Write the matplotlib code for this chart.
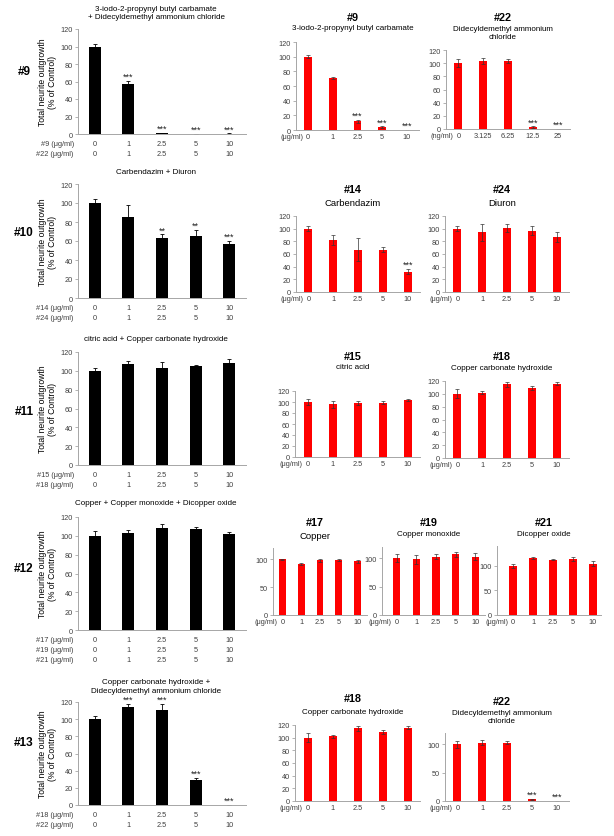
import numpy as np
import matplotlib
matplotlib.use("Agg")
import matplotlib.pyplot as plt

plt.rcParams['font.family'] = ['Liberation Sans', 'DejaVu Sans']

W, H = 614, 837
doses = ['0', '1', '2.5', '5', '10']
doses_ng = ['0', '3.125', '6.25', '12.5', '25']

# combination panels (black)
mix9_22 = [100, 57, 1, 0, 0.5]
mix9_22_err = [3, 4, 0.5, 0, 0.3]
mix9_22_sig = ['', '***', '***', '***', '***']

mix14_24 = [100, 85, 63, 65, 57]
mix14_24_err = [4, 13, 4, 7, 3]
mix14_24_sig = ['', '', '**', '**', '***']

mix15_18 = [100, 107, 103, 105, 108]
mix15_18_err = [3, 3, 6, 1, 5]

mix17_19_21 = [100, 103, 108, 107, 102]
mix17_19_21_err = [5, 3, 5, 2, 2]

mix18_22 = [100, 114, 111, 29, 0]
mix18_22_err = [4, 4, 7, 3, 0]
mix18_22_sig = ['', '***', '***', '***', '***']

# single compounds (red)
c9 = [100, 71, 12, 4, 0]
c9_err = [2, 1, 2, 1, 0]
c9_sig = ['', '', '***', '***', '***']

c22 = [100, 103, 103, 3, 0]
c22_err = [6, 5, 3, 1, 0]
c22_sig = ['', '', '', '***', '***']

c14 = [100, 82, 67, 67, 32]
c14_err = [4, 8, 18, 4, 4]
c14_sig = ['', '', '', '', '***']

c24 = [100, 94, 101, 97, 87]
c24_err = [4, 13, 7, 7, 8]

c15 = [100, 96, 98, 99, 103]
c15_err = [6, 6, 4, 2, 2]

c18 = [100, 102, 115, 109, 116]
c18_err = [7, 3, 4, 3, 2]

c17 = [100, 92, 98, 98, 96]
c17_err = [1, 2, 3, 2, 2]

c19 = [100, 98, 103, 107, 103]
c19_err = [7, 8, 4, 5, 6]

c21 = [100, 115, 112, 113, 104]
c21_err = [4, 2, 1, 4, 5]

fig = plt.figure(figsize=(W / 100, H / 100), dpi=100)
fig.patch.set_facecolor('white')

GRAY = '#a6a6a6'
TXT = '#404040'


def box(x0, y0, x1, y1):
    return [x0 / W, 1 - y1 / H, (x1 - x0) / W, (y1 - y0) / H]


def style(ax, ymax, yticks):
    ax.set_ylim(0, ymax)
    ax.set_yticks(yticks)
    for s in ['top', 'right']:
        ax.spines[s].set_visible(False)
    for s in ['left', 'bottom']:
        ax.spines[s].set_color(GRAY)
        ax.spines[s].set_linewidth(0.7)
    ax.tick_params(axis='y', length=2, width=0.6, color=GRAY, labelsize=5.3, labelcolor=TXT, pad=1.5)
    ax.tick_params(axis='x', length=0, labelsize=5.3, labelcolor=TXT, pad=2.5)


def stars(ax, vals, errs, sig):
    for i, s in enumerate(sig):
        if s:
            ax.annotate(s, xy=(i, vals[i] + errs[i]), xytext=(0, 0), textcoords='offset points',
                        ha='center', va='bottom', fontsize=6.5, color='#202020')


def combo(rect, vals, errs, title, title_y, rows, sig=None, label='', label_y=0):
    ax = fig.add_axes(box(*rect))
    x = np.arange(len(vals))
    ax.bar(x, vals, width=0.36, color='black')
    ax.errorbar(x, vals, yerr=[np.zeros(len(errs)), errs], fmt='none', ecolor='black',
                elinewidth=0.6, capsize=1.5, capthick=0.6)
    style(ax, 120, range(0, 121, 20))
    ax.set_xlim(-0.5, 4.5)
    ax.set_xticks([])
    for r, name in enumerate(rows):
        off = -(4.5 + 7.2 * r)
        ax.annotate(name + ' (μg/ml)', xy=(0, 0), xycoords='axes fraction', xytext=(-3, off),
                    textcoords='offset points', ha='right', va='top', fontsize=5.3, color=TXT)
        for i, d in enumerate(doses):
            ax.annotate(d, xy=(i, 0), xycoords=('data', 'axes fraction'), xytext=(0, off),
                        textcoords='offset points', ha='center', va='top', fontsize=5.3, color=TXT)
    if sig:
        stars(ax, vals, errs, sig)
    cx = (rect[0] + rect[2]) / 2 - 6
    fig.text(cx / W, 1 - title_y / H, title, fontsize=5.8, ha='center', va='center', linespacing=1.25)
    ax.set_ylabel('Total neurite outgrowth\n(% of Control)', fontsize=6.2, labelpad=3, linespacing=1.1)
    fig.text(24 / W, 1 - label_y / H, label, fontsize=8.5, fontweight='bold',
             ha='center', va='center')
    return ax


def single(rect, vals, errs, num, num_y, name, name_y, ymax=120, yticks=range(0, 121, 20),
           xlim=(-0.5, 4.5), sig=None, labels=doses, unit='(μg/ml)', namesize=5.8, width=0.32):
    ax = fig.add_axes(box(*rect))
    x = np.arange(len(vals))
    ax.bar(x, vals, width=width, color='#ff0000')
    ax.errorbar(x, vals, yerr=errs, fmt='none', ecolor='#333333', elinewidth=0.5, capsize=1.2, capthick=0.5)
    style(ax, ymax, yticks)
    ax.set_xlim(*xlim)
    ax.set_xticks(x)
    ax.set_xticklabels(labels)
    ax.annotate(unit, xy=(0, 0), xycoords=('data', 'axes fraction'), xytext=(-3.5, -2.5),
                textcoords='offset points', ha='right', va='top', fontsize=5.3, color=TXT)
    if sig:
        stars(ax, vals, errs, sig)
    cx = (rect[0] + rect[2]) / 2 - 5
    fig.text(cx / W, 1 - num_y / H, num, fontsize=7.8, fontweight='bold', ha='center', va='center')
    fig.text(cx / W, 1 - name_y / H, name, fontsize=namesize, ha='center', va='center', linespacing=1.2)
    return ax


# row 1
combo((78, 30, 246, 135), mix9_22, mix9_22_err,
      '3-iodo-2-propynyl butyl carbamate\n+ Didecyldemethyl ammonium chloride', 13.5, ['#9', '#22'],
      mix9_22_sig, '#9', 72)
single((296, 43, 419, 131), c9, c9_err, '#9', 18, '3-iodo-2-propynyl butyl carbamate', 29, sig=c9_sig)
single((446, 51, 570, 130), c22, c22_err, '#22', 18, 'Didecyldemethyl ammonium\nchloride', 33.5,
       sig=c22_sig, labels=doses_ng, unit='(ng/ml)')

# row 2
combo((78, 185, 246, 299), mix14_24, mix14_24_err, 'Carbendazim + Diuron', 173, ['#14', '#24'],
      mix14_24_sig, '#10', 233)
single((296, 217, 420, 293), c14, c14_err, '#14', 190, 'Carbendazim', 203, sig=c14_sig, namesize=6.8)
single((445, 217, 569, 293), c24, c24_err, '#24', 190, 'Diuron', 203, namesize=6.8)

# row 3
combo((78, 353, 246, 466), mix15_18, mix15_18_err, 'citric acid + Copper carbonate hydroxide', 340,
      ['#15', '#18'], None, '#11', 412)
single((295, 392, 420, 458), c15, c15_err, '#15', 357, 'citric acid', 368)
single((445, 382, 569, 459), c18, c18_err, '#18', 357, 'Copper carbonate hydroxide', 369)

# row 4
combo((78, 518, 246, 631), mix17_19_21, mix17_19_21_err, 'Copper + Copper monoxide + Dicopper oxide', 504,
      ['#17', '#19', '#21'], None, '#12', 569)
single((273, 549, 367, 616), c17, c17_err, '#17', 523, 'Copper', 537, yticks=[0, 50, 100],
       namesize=6.8, width=0.37)
single((382, 548, 485, 616), c19, c19_err, '#19', 523, 'Copper monoxide', 535, yticks=[0, 50, 100],
       xlim=(-0.75, 4.5), width=0.37)
single((497, 547, 601, 616), c21, c21_err, '#21', 523, 'Dicopper oxide', 534, ymax=140,
       yticks=[0, 50, 100], xlim=(-0.8, 4.4), width=0.37)

# row 5
combo((78, 703, 246, 806), mix18_22, mix18_22_err,
      'Copper carbonate hydroxide +\nDidecyldemethyl ammonium chloride', 687, ['#18', '#22'],
      mix18_22_sig, '#13', 743)
single((295, 726, 420, 802), c18, c18_err, '#18', 699, 'Copper carbonate hydroxide', 713)
single((445, 734, 569, 802), c22, c22_err, '#22', 702, 'Didecyldemethyl ammonium\nchloride', 717.5,
       yticks=[0, 50, 100], sig=c22_sig)

fig.savefig('out.png', dpi=100, facecolor='white')
